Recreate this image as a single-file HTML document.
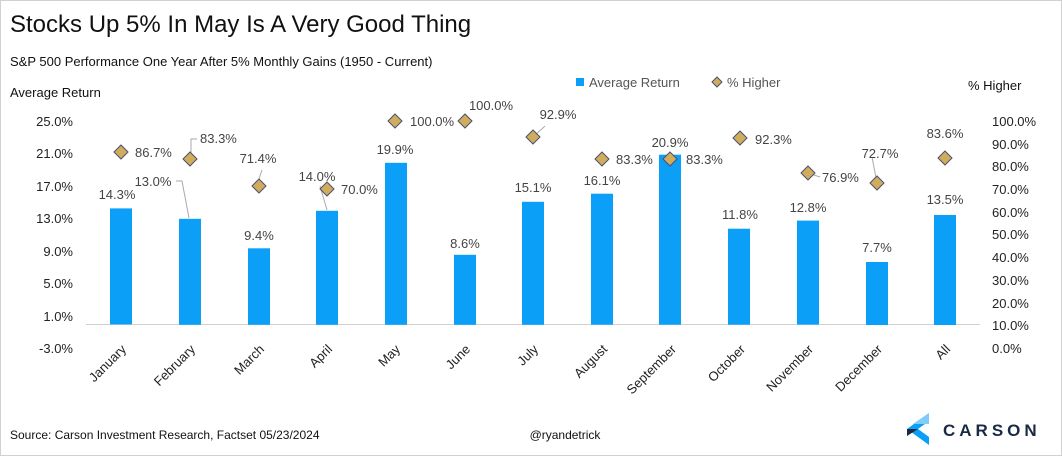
<!DOCTYPE html>
<html><head><meta charset="utf-8"><style>
body{margin:0;background:#fff}
svg{display:block;font-family:"Liberation Sans",Arial,sans-serif}
</style></head><body>
<svg width="1062" height="456" viewBox="0 0 1062 456">
<rect x="0.5" y="0.5" width="1061" height="455" fill="#fff" stroke="#d0d0d0"/>
<text x="10" y="32" font-size="24" fill="#111">Stocks Up 5% In May Is A Very Good Thing</text>
<text x="10" y="66" font-size="13" fill="#111">S&amp;P 500 Performance One Year After 5% Monthly Gains (1950 - Current)</text>
<text x="10" y="97" font-size="13" fill="#111">Average Return</text>
<text x="968" y="90" font-size="13" fill="#111">% Higher</text>
<rect x="576" y="78" width="8" height="8" fill="#0b9ff8"/>
<text x="589" y="87" font-size="13" fill="#555">Average Return</text>
<path d="M717 77 L722 82 L717 87 L712 82Z" fill="#cfad5c" stroke="#4a5070"/>
<text x="727" y="87" font-size="13" fill="#555">% Higher</text>
<g font-size="13" fill="#222" text-anchor="end">
<text x="73" y="126">25.0%</text><text x="73" y="158">21.0%</text><text x="73" y="191">17.0%</text><text x="73" y="223">13.0%</text><text x="73" y="256">9.0%</text><text x="73" y="288">5.0%</text><text x="73" y="321">1.0%</text><text x="73" y="353">-3.0%</text>
</g>
<g font-size="13" fill="#222">
<text x="992" y="126">100.0%</text><text x="992" y="149">90.0%</text><text x="992" y="171">80.0%</text><text x="992" y="194">70.0%</text><text x="992" y="217">60.0%</text><text x="992" y="239">50.0%</text><text x="992" y="262">40.0%</text><text x="992" y="285">30.0%</text><text x="992" y="308">20.0%</text><text x="992" y="330">10.0%</text><text x="992" y="353">0.0%</text>
</g>
<line x1="86" y1="324.5" x2="980" y2="324.5" stroke="#d0d0d0"/>
<g fill="#0b9ff8">
<rect x="110" y="208.4" width="22" height="116"/>
<rect x="179" y="218.8" width="22" height="106"/>
<rect x="248" y="248.3" width="22" height="76.5"/>
<rect x="316" y="210.8" width="22" height="114"/>
<rect x="385" y="162.8" width="22" height="162"/>
<rect x="454" y="254.8" width="22" height="70"/>
<rect x="522" y="201.8" width="22" height="123"/>
<rect x="591" y="193.7" width="22" height="131"/>
<rect x="659" y="154.7" width="22" height="170"/>
<rect x="728" y="228.7" width="22" height="96"/>
<rect x="797" y="220.6" width="22" height="104"/>
<rect x="866" y="262" width="22" height="63"/>
<rect x="934" y="215" width="22" height="110"/>
</g>
<g stroke="#aaa" fill="none">
<path d="M191 158 V139 H197"/><path d="M176 181 H182 L189 218"/><path d="M262 170 L258 182"/><path d="M320 186 L327 210"/><path d="M533 137 L545 126"/><path d="M808 173 L820 177"/><path d="M877 183 L872 157"/>
</g>
<g fill="#cfad5c" stroke="#4a5070" stroke-width="1">
<path d="M121 145 L128 152 L121 159 L114 152Z"/>
<path d="M190 152 L197 159 L190 166 L183 159Z"/>
<path d="M259 179 L266 186 L259 193 L252 186Z"/>
<path d="M327 182 L334 189 L327 196 L320 189Z"/>
<path d="M395 114 L402 121 L395 128 L388 121Z"/>
<path d="M465 114 L472 121 L465 128 L458 121Z"/>
<path d="M533 130 L540 137 L533 144 L526 137Z"/>
<path d="M602 152 L609 159 L602 166 L595 159Z"/>
<path d="M670 152 L677 159 L670 166 L663 159Z"/>
<path d="M740 131 L747 138 L740 145 L733 138Z"/>
<path d="M808 166 L815 173 L808 180 L801 173Z"/>
<path d="M877 176 L884 183 L877 190 L870 183Z"/>
<path d="M945 151 L952 158 L945 165 L938 158Z"/>
</g>
<g font-size="13" fill="#444" text-anchor="middle">
<text x="117" y="199">14.3%</text><text x="153" y="186">13.0%</text><text x="259" y="240">9.4%</text><text x="317" y="181">14.0%</text><text x="395" y="154">19.9%</text><text x="465" y="248">8.6%</text><text x="533" y="192">15.1%</text><text x="602" y="185">16.1%</text><text x="670" y="147">20.9%</text><text x="740" y="219">11.8%</text><text x="808" y="212">12.8%</text><text x="877" y="252">7.7%</text><text x="945" y="204">13.5%</text>
<text x="258" y="163">71.4%</text><text x="491" y="110">100.0%</text><text x="558" y="119">92.9%</text><text x="880" y="158">72.7%</text><text x="945" y="138">83.6%</text>
</g>
<g font-size="13" fill="#444">
<text x="135" y="157">86.7%</text><text x="200" y="143">83.3%</text><text x="341" y="194">70.0%</text><text x="410" y="126">100.0%</text><text x="616" y="164">83.3%</text><text x="686" y="164">83.3%</text><text x="755" y="144">92.3%</text><text x="822" y="182">76.9%</text>
</g>
<g font-size="13" fill="#222" text-anchor="end">
<text transform="translate(127,350) rotate(-45)">January</text>
<text transform="translate(196,350) rotate(-45)">February</text>
<text transform="translate(265,350) rotate(-45)">March</text>
<text transform="translate(333,350) rotate(-45)">April</text>
<text transform="translate(401,350) rotate(-45)">May</text>
<text transform="translate(471,350) rotate(-45)">June</text>
<text transform="translate(539,350) rotate(-45)">July</text>
<text transform="translate(608,350) rotate(-45)">August</text>
<text transform="translate(677,350) rotate(-45)">September</text>
<text transform="translate(746,350) rotate(-45)">October</text>
<text transform="translate(814,350) rotate(-45)">November</text>
<text transform="translate(883,350) rotate(-45)">December</text>
<text transform="translate(951,350) rotate(-45)">All</text>
</g>
<text x="10" y="439" font-size="12" fill="#111">Source: Carson Investment Research, Factset 05/23/2024</text>
<text x="565" y="439" font-size="12" fill="#111" text-anchor="middle">@ryandetrick</text>
<path d="M929 413 L907 429 L929 445 L929 437 L918 429 L929 421 Z" fill="#0b9ff8"/>
<path d="M929 413 L913 424 L929 424 Z" fill="#7fcbfb"/>
<path d="M907 429 L918 429 L907 436Z" fill="#1a2a44"/>
<text x="943" y="436" font-size="17" font-weight="bold" fill="#1a2a44" letter-spacing="4">CARSON</text>
</svg>
</body></html>
